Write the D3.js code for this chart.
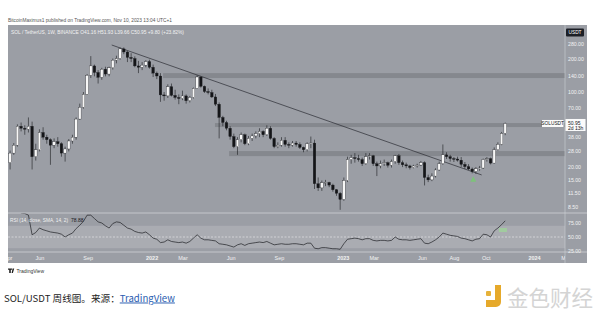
<!DOCTYPE html>
<html>
<head>
<meta charset="utf-8">
<script src="https://cdn.jsdelivr.net/npm/d3@7"></script>
<style>
  body { margin: 0; background: #fff; }
  svg { display: block; font-family: "Liberation Sans", Arial, sans-serif; }
</style>
</head>
<body>
<svg id="chart" width="600" height="318"></svg>
<script>
// SOL/USDT weekly candles, first bar = week of Mon 2021-04-05
const firstWeek = new Date(2021, 3, 5);
const firstOpen = 22;
const closes = [27, 32, 48, 46, 45, 48, 25, 29, 42, 38,
  36, 32, 34.5, 33, 27, 29.5, 35, 38, 56, 72,
  95, 143, 175, 152, 137, 163, 147, 168, 198, 205,
  252, 236, 210, 205, 175, 170, 178, 192, 170, 150,
  141, 94, 92, 112, 93, 89, 87, 92, 83, 89,
  108, 138, 113, 101, 99, 90, 77, 58, 52, 46,
  38.5, 31, 36, 40, 33, 37, 39, 41, 43, 40,
  46, 37, 31, 32, 35.5, 32.5, 32, 33.5, 32.5, 30.5,
  29, 33, 33.5, 14, 12.8, 14.3, 14.4, 13.6, 12.3, 11.4,
  10, 15, 23.5, 24.5, 24, 23.5, 21.5, 25, 25.5, 21.5,
  20.5, 21.5, 22, 20.8, 22.5, 25.5, 22, 21, 20.5, 19.8,
  20.5, 20.9, 22, 16, 15.2, 16.5, 18.8, 21.5, 26, 25,
  24, 23.8, 23.2, 21.2, 20.2, 19.2, 18.2, 19.3, 19.6, 23.5,
  23.9, 21.8, 29, 32.5, 41.16, 50.95];
const highs = [28.5, 33.5, 50, 52, 49, 58, 53, 33, 45, 47,
  40, 37, 37, 38, 34, 31, 36.5, 40, 58, 78,
  100, 147, 216, 180, 160, 168, 172, 172, 205, 218,
  259, 260, 240, 230, 215, 195, 190, 198, 200, 180,
  155, 150, 100, 118, 120, 105, 95, 103, 95, 92,
  110, 143, 140, 115, 108, 105, 96, 80, 60, 54,
  48, 41, 38, 42, 41, 39, 41, 43, 46, 44,
  49, 48, 38, 34, 38, 38, 34, 35, 35, 34,
  31, 34, 38.5, 36, 16, 15, 15.2, 14.6, 14, 12.5,
  11.7, 16, 25, 26, 27, 26, 24.5, 27, 27, 26,
  22.5, 23, 23.5, 22.5, 23.5, 26, 26.5, 23, 22, 21,
  21, 21.5, 22.8, 22.6, 17, 17.5, 19.5, 22.5, 32.5, 27.5,
  26, 24.8, 25, 24.8, 22.3, 21.3, 19.8, 20, 20.5, 24,
  24.8, 24.5, 30.5, 34, 42.5, 51.93];
const lows = [19, 26, 31, 43, 40, 42, 19, 23, 28, 36,
  33, 21, 30, 31, 25, 22.5, 28, 33, 36, 55,
  70, 94, 135, 140, 120, 130, 140, 140, 162, 185,
  200, 225, 190, 190, 170, 150, 160, 170, 165, 138,
  132, 81, 83, 88, 91, 85, 77, 84, 78, 80,
  87, 107, 110, 98, 95, 88, 74, 37, 48, 44,
  36, 30, 26, 34, 32, 32, 35, 37, 38, 38,
  39, 36, 30, 30, 31, 31, 30, 31, 31, 29.5,
  27.5, 28, 30, 12.5, 12, 12, 13.3, 13, 11.8, 10.8,
  8, 9.7, 14.5, 21.5, 22, 22.5, 20.5, 21, 23.5, 20.5,
  16.5, 19.5, 20.5, 19.8, 19.8, 21.5, 21, 20, 19.5, 19,
  19.5, 19.8, 20.5, 13.5, 14.5, 14.8, 16, 18.5, 21, 23.8,
  22.5, 22.3, 22.5, 20.1, 19.2, 18.8, 17.5, 17.3, 18.5, 19.2,
  22.5, 21.2, 21.6, 28.5, 32, 39.66];
const rsiValues = [95, 96, 97, 93, 92, 89, 54, 58, 66, 63,
  61, 59, 58, 57, 55, 50, 54, 57, 65, 71,
  78, 89, 89, 83, 77, 75, 70, 66, 74, 77,
  76, 71, 66, 64, 60, 58, 57, 59, 54, 48,
  46, 40, 41, 45, 42, 41, 40, 41, 39, 42,
  48, 54, 48, 45, 45, 44, 43, 38, 37, 36,
  34, 32, 36, 38, 35, 38, 39, 40, 41, 40,
  42, 39, 36, 37, 38, 37, 37, 38, 38, 37,
  36, 39, 39, 30, 29, 31, 31, 30, 29, 29,
  28, 38, 46, 47, 48, 47, 45, 47, 47, 44,
  43, 44, 44, 43, 44, 50, 46, 45, 45, 44,
  45, 46, 47, 39, 38, 41, 45, 50, 57, 55,
  53, 52, 51, 48, 47, 45, 43, 46, 47, 55,
  54, 50, 61, 66, 72, 78.88];

const priceTicks = [280, 200, 140, 100, 70, 38, 28, 20, 15, 11.5, 8.5];
const rsiTicks = [75, 50, 25];
const timeTicks = ["2021-04-01", "2021-06-01", "2021-09-01", "2022-01-01", "2022-03-01", "2022-06-01",
  "2022-09-01", "2023-01-01", "2023-03-01", "2023-06-01", "2023-08-01", "2023-10-01", "2024-01-01", "2024-03-01"];
const timeLabels = ["Apr", "Jun", "Sep", "2022", "Mar", "Jun", "Sep", "2023", "Mar", "Jun", "Aug", "Oct", "2024", "Mar"];

// horizontal zones drawn by the author
const zoneStarts = ["2022-01-22", "2022-05-01", "2022-05-28"];
const zoneLows = [135, 47.2, 25.3];
const zoneHighs = [150, 51.4, 28.2];
// descending trendline
const trendDates = ["2021-10-16", "2023-09-22"];
const trendPrices = [274, 16.9];
const signalDate = "2023-09-06", signalPrice = 15.4;

const parse = d3.timeParse("%Y-%m-%d");
const candles = closes.map((c, i) => ({
  date: d3.timeDay.offset(firstWeek, 7 * i),
  open: i === 0 ? firstOpen : closes[i - 1],
  close: c, high: highs[i], low: lows[i], rsi: rsiValues[i]
}));

const svg = d3.select("#chart");
const L = 8, R = 565, AX = 587, TOP = 25, MAIN_B = 213, RSI_B = 252, BOT = 263;
const bg = "#9b9ea5", lineCol = "#cfd1d5", txt = "#f2f2f2";

const x = d3.scaleTime().domain([new Date(2021, 3, 1), new Date(2024, 2, 1)]).range([L, 566]);
const y = d3.scaleLog().domain([8.5, 280]).range([207, 44]);
const yr = d3.scaleLinear().domain([25, 75]).range([251, 223]);

// header
svg.append("text").attr("x", 8).attr("y", 21.5).attr("font-size", 5).attr("fill", "#555")
  .attr("textLength", 164).attr("lengthAdjust", "spacingAndGlyphs")
  .text("BitcoinMaximus1 published on TradingView.com, Nov 10, 2023 13:04 UTC+1");

// panel
svg.append("rect").attr("x", L).attr("y", TOP).attr("width", AX - L).attr("height", BOT - TOP).attr("fill", bg);

const defs = svg.append("defs");
defs.append("clipPath").attr("id", "mainClip").append("rect")
  .attr("x", L).attr("y", TOP).attr("width", R - L).attr("height", MAIN_B - TOP);
defs.append("clipPath").attr("id", "rsiClip").append("rect")
  .attr("x", L).attr("y", MAIN_B).attr("width", R - L).attr("height", RSI_B - MAIN_B);

const main = svg.append("g").attr("clip-path", "url(#mainClip)");

// zones
main.selectAll("rect.zone").data(zoneStarts).enter().append("rect")
  .attr("class", "zone")
  .attr("x", d => x(parse(d)))
  .attr("width", d => R - x(parse(d)))
  .attr("y", (d, i) => y(zoneHighs[i]))
  .attr("height", (d, i) => y(zoneLows[i]) - y(zoneHighs[i]))
  .attr("fill", "#7e8087").attr("opacity", 0.75);

// trendline
main.append("path")
  .datum(trendDates.map((d, i) => [x(parse(d)), y(trendPrices[i])]))
  .attr("d", d3.line())
  .attr("stroke", "#2b2d33").attr("stroke-width", 0.7).attr("fill", "none");

// candles
const bw = 2.6;
main.selectAll("line.wick").data(candles).enter().append("line")
  .attr("x1", d => x(d.date)).attr("x2", d => x(d.date))
  .attr("y1", d => y(d.high)).attr("y2", d => y(d.low))
  .attr("stroke", "#1b1c20").attr("stroke-width", 0.6);
main.selectAll("rect.body").data(candles).enter().append("rect")
  .attr("x", d => x(d.date) - bw / 2).attr("width", bw)
  .attr("y", d => y(Math.max(d.open, d.close)))
  .attr("height", d => Math.max(0.8, Math.abs(y(d.open) - y(d.close))))
  .attr("fill", d => d.close >= d.open ? "#f7f7f7" : "#141518")
  .attr("stroke", "#1b1c20").attr("stroke-width", 0.3);

// signal arrow
const sx = x(parse(signalDate)), sy = y(signalPrice);
main.append("path")
  .attr("d", `M${sx},${sy - 3}L${sx + 3},${sy + 2.5}L${sx - 3},${sy + 2.5}Z`)
  .attr("fill", "#7dc27a");

// legend
svg.append("text").attr("x", 11).attr("y", 34).attr("font-size", 5).attr("fill", txt)
  .attr("textLength", 173).attr("lengthAdjust", "spacingAndGlyphs")
  .text("SOL / TetherUS, 1W, BINANCE  O41.16  H51.93  L39.66  C50.95  +9.80 (+23.82%)");

// RSI pane
svg.append("rect").attr("x", L).attr("y", yr(70)).attr("width", R - L)
  .attr("height", yr(30) - yr(70)).attr("fill", "#aaacb2");
svg.append("line").attr("x1", L).attr("x2", R).attr("y1", yr(50)).attr("y2", yr(50))
  .attr("stroke", "#eeeeee").attr("stroke-width", 0.6).attr("stroke-dasharray", "2,1.5");
const rsiG = svg.append("g").attr("clip-path", "url(#rsiClip)");
rsiG.append("path").datum(candles)
  .attr("d", d3.line().x(d => x(d.date)).y(d => yr(d.rsi)))
  .attr("fill", "none").attr("stroke", "#1e1f24").attr("stroke-width", 0.7);
rsiG.append("rect").attr("x", x(parse("2023-10-25"))).attr("y", 228).attr("width", 8).attr("height", 4)
  .attr("fill", "#9fd39a").attr("opacity", 0.8);
svg.append("text").attr("x", 10).attr("y", 221.5).attr("font-size", 5).attr("fill", txt)
  .attr("textLength", 58).attr("lengthAdjust", "spacingAndGlyphs").text("RSI (14, close, SMA, 14, 2)");
svg.append("text").attr("x", 71).attr("y", 221.5).attr("font-size", 5).attr("fill", "#15161a")
  .text(d3.format(".2f")(rsiValues[rsiValues.length - 1]));

// separators
svg.append("line").attr("x1", R).attr("x2", R).attr("y1", TOP).attr("y2", BOT).attr("stroke", lineCol).attr("stroke-width", 0.6);
[MAIN_B, RSI_B].forEach(v => svg.append("line").attr("x1", L).attr("x2", AX).attr("y1", v).attr("y2", v)
  .attr("stroke", lineCol).attr("stroke-width", 0.8));

// price axis
const pax = svg.append("g");
pax.selectAll("text").data(priceTicks).enter().append("text")
  .attr("x", 568).attr("y", d => y(d) + 1.8).attr("font-size", 5.2).attr("fill", txt)
  .text(d => d3.format(".2f")(d));
pax.append("rect").attr("x", 566).attr("y", 28.5).attr("width", 18).attr("height", 8).attr("rx", 1).attr("fill", "#1c1f26");
pax.append("text").attr("x", 575).attr("y", 34.3).attr("text-anchor", "middle").attr("font-size", 4.8).attr("fill", "#fff").text("USDT");
const last = candles[candles.length - 1];
pax.append("rect").attr("x", 565.5).attr("y", y(last.close) - 4.5).attr("width", 20).attr("height", 12).attr("fill", "#fbfbfb");
pax.append("text").attr("x", 568).attr("y", y(last.close) + 1.2).attr("font-size", 5).attr("fill", "#15161a").text(d3.format(".2f")(last.close));
pax.append("text").attr("x", 568).attr("y", y(last.close) + 6.3).attr("font-size", 5).attr("fill", "#15161a").text("2d 13h");
pax.append("rect").attr("x", 542).attr("y", y(last.close) - 3.5).attr("width", 21.5).attr("height", 7).attr("fill", "#fbfbfb");
pax.append("text").attr("x", 552.7).attr("y", y(last.close) + 1.6).attr("text-anchor", "middle").attr("font-size", 4.8).attr("fill", "#15161a").text("SOLUSDT");

// RSI axis
svg.append("g").selectAll("text").data(rsiTicks).enter().append("text")
  .attr("x", 568).attr("y", d => yr(d) + 1.8).attr("font-size", 5.2).attr("fill", txt)
  .text(d => d3.format(".2f")(d));

// time axis
defs.append("clipPath").attr("id", "timeClip").append("rect")
  .attr("x", L).attr("y", RSI_B).attr("width", R - L).attr("height", BOT - RSI_B);
svg.append("g").attr("clip-path", "url(#timeClip)").selectAll("text").data(timeTicks).enter().append("text")
  .attr("x", d => x(parse(d))).attr("y", 259.5).attr("text-anchor", "middle")
  .attr("font-size", 5.5).attr("fill", txt)
  .attr("font-weight", (d, i) => /^\d{4}$/.test(timeLabels[i]) ? "bold" : "normal")
  .text((d, i) => timeLabels[i]);

// TradingView mark
svg.append("path").attr("d", "M8,268.5h4v1.2h-1.2v3.3h-1.6v-3.3h-1.2zM12.6,268.5h1.6l-1.3,4.5h-1.3z").attr("fill", "#222");
svg.append("text").attr("x", 16.5).attr("y", 272.5).attr("font-size", 5).attr("fill", "#333").text("TradingView");

// caption
const cap = svg.append("text").attr("x", 4).attr("y", 301.5).attr("font-size", 9.6).attr("fill", "#222")
  .attr("font-family", "'Noto Sans CJK SC', 'Liberation Sans', sans-serif");
cap.append("tspan").text("SOL/USDT 周线图。来源：");
cap.append("tspan").attr("fill", "#2a5db0").attr("text-decoration", "underline").text("TradingView");

// watermark logo
const lg = svg.append("g");
lg.append("rect").attr("x", 486).attr("y", 291).attr("width", 5).attr("height", 5).attr("rx", 1).attr("fill", "#e6b23a");
lg.append("path").attr("d", "M495,285h6v17a5,5 0 0 1 -5,5h-10v-7h9z").attr("fill", "#e6a92a");
lg.append("text").attr("x", 507).attr("y", 306).attr("font-size", 22).attr("fill", "#d4d4d4")
  .attr("font-family", "'Noto Sans CJK SC', sans-serif")
  .attr("textLength", 86).attr("lengthAdjust", "spacingAndGlyphs").text("金色财经");
</script>
</body>
</html>
